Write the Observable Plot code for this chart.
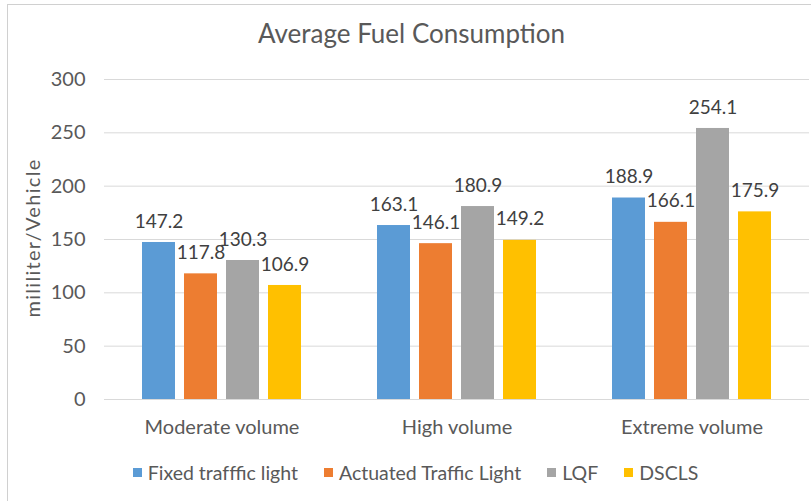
<!DOCTYPE html>
<html>
<head>
<meta charset="utf-8">
<script src="https://cdn.jsdelivr.net/npm/d3@7"></script>
<script src="https://cdn.jsdelivr.net/npm/@observablehq/plot@0.6"></script>
<style>
  html, body { margin: 0; padding: 0; background: #ffffff; overflow: hidden; }
  #wrap { position: relative; width: 811px; height: 501px; overflow: hidden; font-family: Lato, "Open Sans", sans-serif; }
  #frame { position: absolute; left: 7px; top: 4px; width: 900px; height: 600px; border: 1px solid #d0d0d0; box-sizing: border-box; }
  #title { position: absolute; left: 0; top: 0; width: 823px; height: 62px; line-height: 66px; text-align: center; font-size: 26px; color: #595959; }
  #chart { position: absolute; left: 0; top: 62px; }
  #ylabel { position: absolute; left: 32px; top: 238px; transform: translate(-50%, -50%) rotate(-90deg); white-space: nowrap; font-size: 20px; letter-spacing: 1.3px; color: #595959; }
  #legend { position: absolute; left: 0; top: 444px; width: 831px; height: 57px; display: flex; justify-content: center; align-items: center; font-size: 19.5px; color: #595959; }
  .item { display: flex; align-items: center; margin: 0 13px; }
  .sw { width: 9px; height: 9px; margin-right: 6px; }
  #chart svg g[aria-label="y-axis tick label"] text { font-size: 20px; }
  #chart svg g[aria-label="fx-axis tick label"] text { font-size: 20px; }
  #chart svg g[aria-label="text"] text { font-size: 19px; }
</style>
</head>
<body>
<div id="wrap">
  <div id="frame"></div>
  <div id="title">Average Fuel Consumption</div>
  <div id="chart"></div>
  <div id="ylabel"></div>
  <div id="legend"></div>
</div>
<script>
const categories = ["Moderate volume", "High volume", "Extreme volume"];
const series = ["Fixed trafffic light", "Actuated Traffic Light", "LQF", "DSCLS"];
const colors = ["#5B9BD5", "#ED7D31", "#A5A5A5", "#FFC000"];
const fixedValues = [147.2, 163.1, 188.9];
const actuatedValues = [117.8, 146.1, 166.1];
const lqfValues = [130.3, 180.9, 254.1];
const dsclsValues = [106.9, 149.2, 175.9];
const yTicks = [0, 50, 100, 150, 200, 250, 300];
const yLabel = "mililiter/Vehicle";

const seriesValues = [fixedValues, actuatedValues, lqfValues, dsclsValues];
const data = [];
categories.forEach((c, i) => {
  series.forEach((s, j) => data.push({cat: c, series: s, value: seriesValues[j][i]}));
});

document.getElementById("ylabel").textContent = yLabel;

const chart = Plot.plot({
  width: 811,
  height: 382,
  marginTop: 17,
  marginBottom: 45,
  marginLeft: 103,
  marginRight: 1,
  style: {fontFamily: "Lato, 'Open Sans', sans-serif", fontSize: "20px", color: "#595959", background: "transparent"},
  fx: {domain: categories, padding: 0, axis: "bottom", tickSize: 0, tickPadding: 20, label: null},
  x: {domain: series, paddingInner: 0.22, paddingOuter: 0.88, axis: null},
  y: {domain: [0, 300], ticks: yTicks, tickSize: 0, tickPadding: 19, label: null},
  color: {domain: series, range: colors},
  marks: [
    Plot.ruleY(yTicks, {stroke: "#d9d9d9", strokeWidth: 1}),
    Plot.barY(data, {fx: "cat", x: "series", y: "value", fill: "series"}),
    Plot.text(data, {fx: "cat", x: "series", y: "value", text: d => d.value.toFixed(1), dy: -21, fill: "#404040", fontSize: 19})
  ]
});
document.getElementById("chart").appendChild(chart);

const legend = document.getElementById("legend");
series.forEach((s, i) => {
  const item = document.createElement("div");
  item.className = "item";
  const sw = document.createElement("div");
  sw.className = "sw";
  sw.style.background = colors[i];
  const t = document.createElement("span");
  t.textContent = s;
  item.appendChild(sw);
  item.appendChild(t);
  legend.appendChild(item);
});
</script>
</body>
</html>
